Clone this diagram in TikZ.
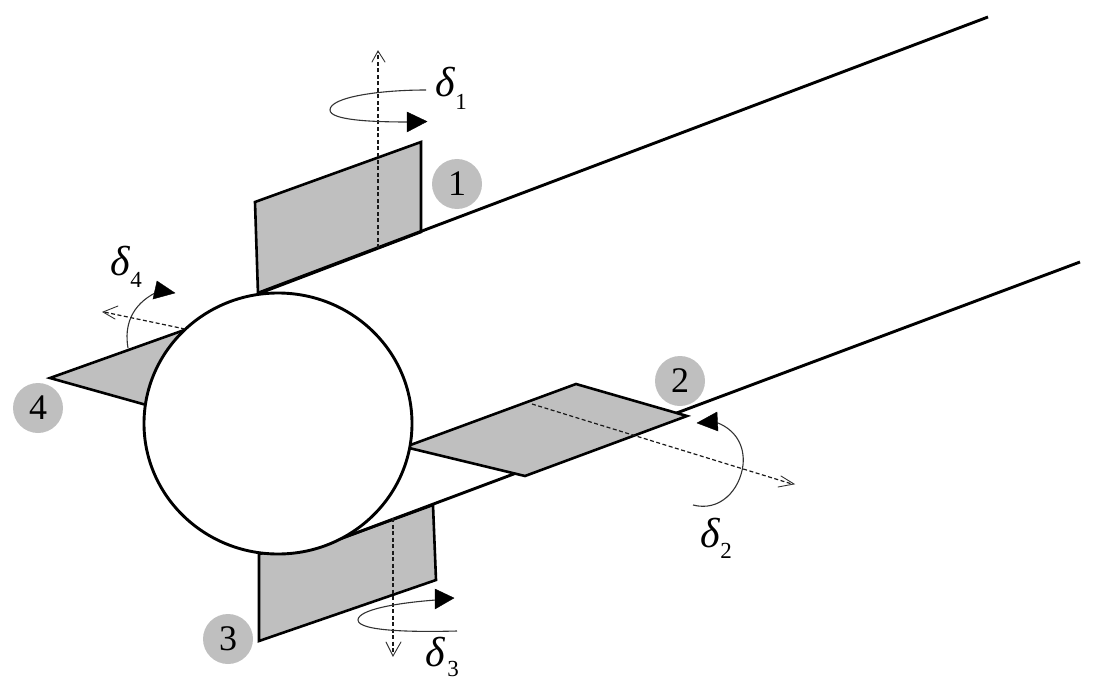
\documentclass[tikz,border=0pt]{standalone}
\usepackage{fontspec}
\usetikzlibrary{shapes.geometric}
\setmainfont{Liberation Serif}
\definecolor{panelgray}{HTML}{BFBFBF}
\tikzset{
  panel/.style={draw=black,fill=panelgray,line width=2.6pt,line join=miter},
  body/.style={black,line width=2.9pt},
  badge/.style={circle,fill=panelgray,minimum size=50pt,inner sep=0pt,font=\fontsize{36}{36}\selectfont},
  axisline/.style={draw=black!90,line width=1.2pt,dash pattern=on 4pt off 2.5pt},
  axistip/.style={draw=black!80,line width=.9pt,line cap=round,line join=miter},
  turn/.style={draw=black!80,line width=1.1pt},
  tip/.style={fill=black,draw=black,line width=.4pt,line join=miter},
  sym/.style={inner sep=0pt,font=\fontsize{42}{42}\selectfont\itshape},
  subs/.style={inner sep=0pt,font=\fontsize{23}{23}\selectfont},
}
\begin{document}
\begin{tikzpicture}[x=1pt,y=-1pt]
\useasboundingbox (0,0) rectangle (1103,690);
% panels
\draw[panel] (255,202) -- (421,142) -- (421,232) -- (258,294) -- cycle;
\draw[panel] (259,554) -- (259,641) -- (436,580) -- (433,505) -- (345,537) -- cycle;
\draw[panel] (50,378) -- (190,328) -- (150,406) -- cycle;
% body lines
\draw[body] (258,293) -- (988,17);
\draw[body] (340,539) -- (1080,262);
\draw[panel] (405,447) -- (576,384) -- (687,416) -- (525,476) -- cycle;
% fuselage
\node[ellipse,draw=black,fill=white,line width=2.9pt,minimum width=268pt,minimum height=261pt,inner sep=0pt] (body) at (278,423.5) {};
% axes
\coordinate (a1s) at (378,248); \coordinate (a1e) at (378,52);
\coordinate (a2s) at (532,404); \coordinate (a2e) at (792,484);
\coordinate (a3s) at (393,518); \coordinate (a3e) at (393,654);
\coordinate (a4s) at (185,329); \coordinate (a4e) at (104,312);
\draw[axisline] (a1s) -- (a1e);
\draw[axisline] (a2s) -- (a2e);
\draw[axisline] (a3s) -- (a3e);
\draw[axisline] (a4s) -- (a4e);
\draw[axistip] (372,62) -- (378,51) -- (385,62);
\draw[axistip] (781,476) -- (794,484) -- (778,487);
\draw[axistip] (386,642) -- (393,656) -- (401,642);
\draw[axistip] (118,306) -- (103,312) -- (115,319);
% rotation arrows
\draw[turn] (426,90) .. controls (380,90) and (330,97) .. (330,110) .. controls (330,120) and (370,122) .. (408,122);
\draw[tip] (407,112) -- (427,121.5) -- (407,132) -- cycle;
\draw[turn] (718,423) .. controls (735,430) and (745,445) .. (743,465) .. controls (740,490) and (720,512) .. (693,505);
\draw[tip] (717,412) -- (697,423) -- (718,431) -- cycle;
\draw[turn] (457,631) .. controls (420,632) and (358,632) .. (358,620) .. controls (358,610) and (395,603) .. (436,600);
\draw[tip] (435,589) -- (454,598) -- (435,609) -- cycle;
\draw[turn] (128,348) .. controls (124,325) and (132,305) .. (155,293);
\draw[tip] (157,281) -- (175,293) -- (153,299) -- cycle;
% badges
\node[badge] (n1) at (457,184) {1};
\node[badge] (n2) at (680,381) {2};
\node[badge] (n3) at (228,639) {3};
\node[badge] (n4) at (38,408) {4};
% labels
\node[sym]  (d1) at (445,82) {δ};
\node[subs] (s1) at (461,102) {1};
\node[sym]  (d2) at (710,533) {δ};
\node[subs] (s2) at (726,551) {2};
\node[sym]  (d3) at (435,652) {δ};
\node[subs] (s3) at (453,669) {3};
\node[sym]  (d4) at (120,261) {δ};
\node[subs] (s4) at (136,280) {4};
\end{tikzpicture}
\end{document}
